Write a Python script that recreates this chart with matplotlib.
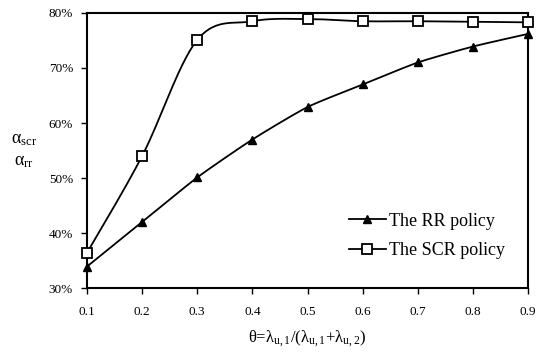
import numpy as np
import matplotlib
matplotlib.use("Agg")
import matplotlib.pyplot as plt
from matplotlib.ticker import FuncFormatter

plt.rcParams['font.family'] = ['Liberation Serif', 'DejaVu Serif']
plt.rcParams['mathtext.fontset'] = 'custom'
plt.rcParams['mathtext.rm'] = 'Liberation Serif'
plt.rcParams['mathtext.it'] = 'Liberation Serif:italic'
plt.rcParams['mathtext.bf'] = 'Liberation Serif:bold'

theta = [0.1, 0.2, 0.3, 0.4, 0.5, 0.6, 0.7, 0.8, 0.9]
rr = [33.9, 42.0, 50.1, 57.0, 62.9, 67.0, 71.0, 73.9, 76.2]
scr = [36.4, 54.0, 75.1, 78.5, 78.9, 78.5, 78.5, 78.4, 78.3]
x_ticks = [0.1, 0.2, 0.3, 0.4, 0.5, 0.6, 0.7, 0.8, 0.9]
y_ticks = [30, 40, 50, 60, 70, 80]


def smooth(xs, ys, n=30, t=0.5):
    # Bezier smoothing like a spreadsheet "smoothed line"
    xs = np.asarray(xs, float); ys = np.asarray(ys, float)
    P = np.column_stack([xs, ys])
    out = []
    for i in range(len(P) - 1):
        p0 = P[i - 1] if i > 0 else P[i]
        p1 = P[i]; p2 = P[i + 1]
        p3 = P[i + 2] if i + 2 < len(P) else P[i + 1]
        c1 = p1 + (p2 - p0) * t / 3
        c2 = p2 - (p3 - p1) * t / 3
        s = np.linspace(0, 1, n)[:, None]
        seg = (1 - s) ** 3 * p1 + 3 * (1 - s) ** 2 * s * c1 + 3 * (1 - s) * s ** 2 * c2 + s ** 3 * p2
        out.append(seg if i == 0 else seg[1:])
    arr = np.vstack(out)
    return arr[:, 0], arr[:, 1]


fig = plt.figure(figsize=(5.36, 3.54), dpi=100)
ax = fig.add_axes([0.1623, 0.1864, 0.8228, 0.7769])

sx, sy = smooth(theta, rr, t=0.3)
ax.plot(sx, sy, color='black', lw=1.3, zorder=2)
sx, sy = smooth(theta, scr, t=0.5)
ax.plot(sx, sy, color='black', lw=1.3, zorder=2)
ax.plot(theta, rr, linestyle='none', marker='^', ms=6, color='black', zorder=3, clip_on=False)
ax.plot(theta, scr, linestyle='none', marker='s', ms=7, mfc='white', mec='black', mew=1.3, zorder=3, clip_on=False)

# legend proxies
ax.plot([], [], color='black', lw=1.3, marker='^', ms=6, label='The RR policy')
ax.plot([], [], color='black', lw=1.3, marker='s', ms=7, mfc='white', mew=1.3, label='The SCR policy')
ax.legend(loc='lower right', bbox_to_anchor=(0.985, 0.045), frameon=False, fontsize=13,
          handlelength=2.1, handletextpad=0.15, labelspacing=0.7)

ax.set_xlim(0.1, 0.9)
ax.set_ylim(30, 80)
ax.set_xticks(x_ticks)
ax.set_xticklabels([f'{v:.1f}' for v in x_ticks])
ax.set_yticks(y_ticks)
ax.yaxis.set_major_formatter(FuncFormatter(lambda v, p: f'{v:.0f}%'))
ax.tick_params(axis='both', direction='out', length=4, width=1.0, labelsize=9.5, color='black')
ax.tick_params(axis='x', pad=9)
ax.tick_params(axis='y', pad=6)
for s in ax.spines.values():
    s.set_linewidth(1.5)
    s.set_color('black')

ax.set_xlabel('θ=λ$_{\\mathrm{u,1}}$/(λ$_{\\mathrm{u,1}}$+λ$_{\\mathrm{u,2}}$)', fontsize=12, labelpad=7)
fig.text(0.045, 0.605, 'α$_{\\mathrm{scr}}$', fontsize=13, ha='center', va='center')
fig.text(0.045, 0.543, 'α$_{\\mathrm{rr}}$', fontsize=13, ha='center', va='center')

fig.savefig('out.png', dpi=100)
